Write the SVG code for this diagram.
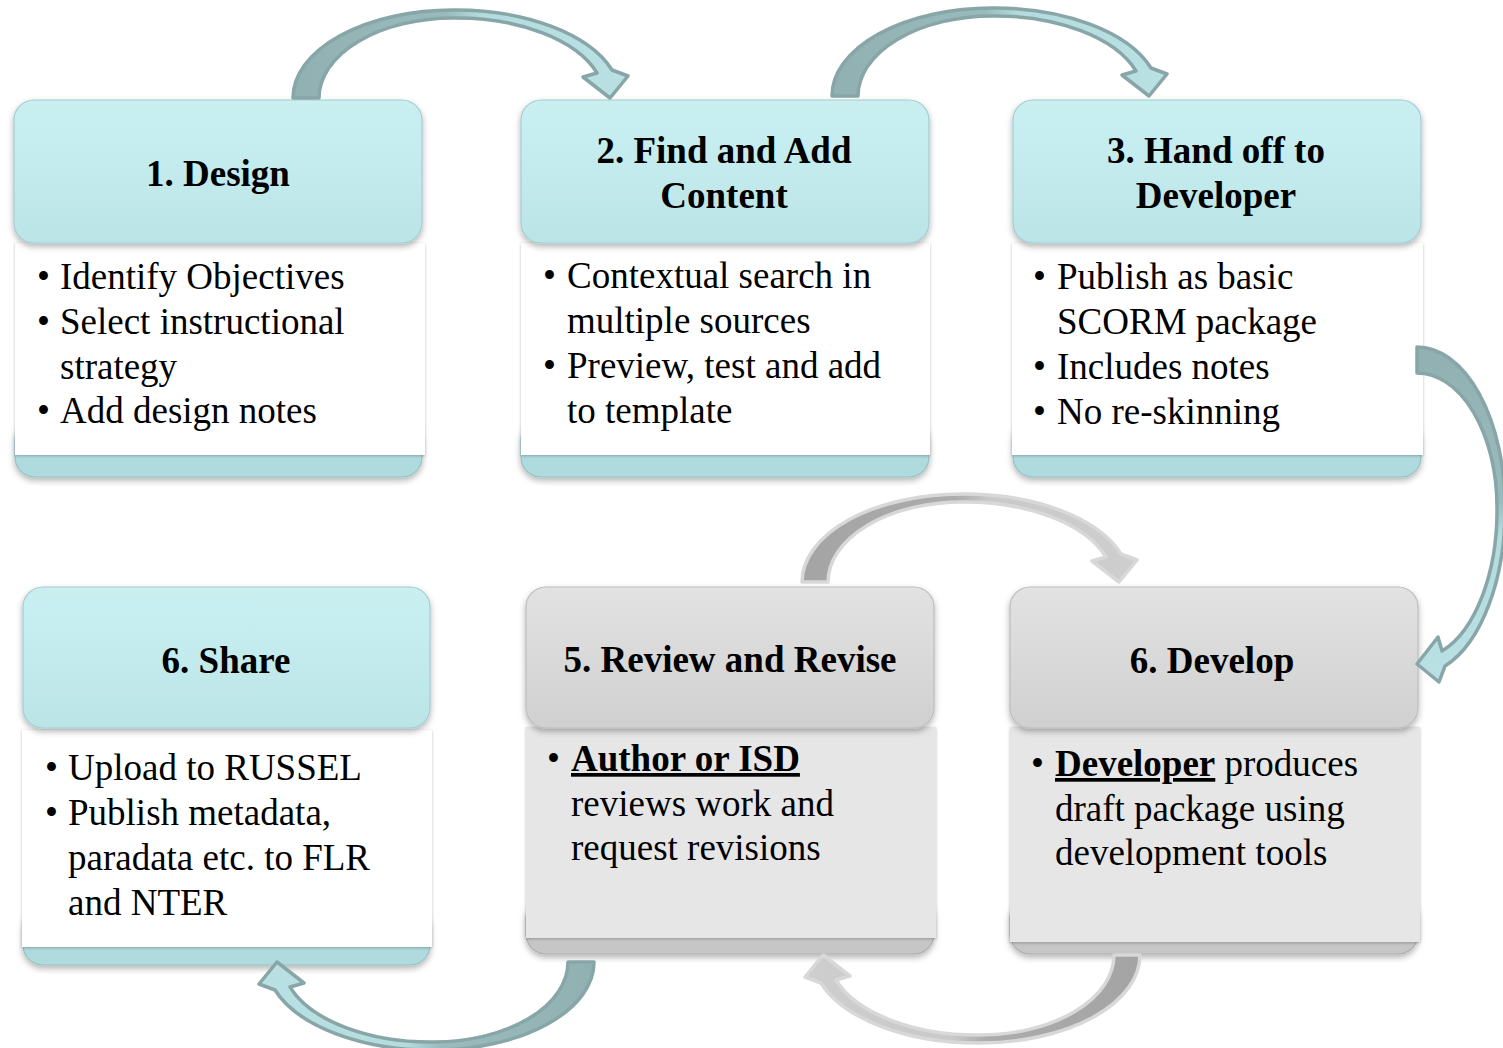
<svg xmlns="http://www.w3.org/2000/svg" width="1503" height="1048" viewBox="0 0 1503 1048">
<style>
.txt{font-family:"Liberation Serif","Times New Roman",serif;font-size:37px;fill:#000}
.hd{font-weight:bold;text-anchor:middle}
.b{font-weight:bold;text-decoration:underline}
.hT{fill:url(#gTeal);stroke:#a3cdd0;stroke-width:1.2}
.hG{fill:url(#gGray);stroke:#bdbdbd;stroke-width:1.2}
.bandT{fill:#b0dbde;stroke:#94c1c4;stroke-width:1.2}
.bandG{fill:#c6c6c6;stroke:#adadad;stroke-width:1.2}
.bodyW{fill:#ffffff}
.bodyG{fill:#e6e6e6}
.arT{fill:url(#gArrowT);stroke:#88a6a8;stroke-width:3.5;stroke-linejoin:round}
.arG{fill:url(#gArrowG);stroke:#d8d8d8;stroke-width:3.5;stroke-linejoin:round}
</style>
<defs>
<linearGradient id="gTeal" x1="0" y1="0" x2="0" y2="1">
<stop offset="0" stop-color="#c9eff1"/><stop offset="0.5" stop-color="#c3ebed"/><stop offset="1" stop-color="#bbe4e7"/>
</linearGradient>
<linearGradient id="gGray" x1="0" y1="0" x2="0" y2="1">
<stop offset="0" stop-color="#e2e2e2"/><stop offset="0.5" stop-color="#d9d9d9"/><stop offset="1" stop-color="#d0d0d0"/>
</linearGradient>
<linearGradient id="gArrowT" x1="0" y1="0" x2="1" y2="0">
<stop offset="0" stop-color="#91b0b2"/><stop offset="0.46" stop-color="#9abbbd"/><stop offset="0.56" stop-color="#b4dcdf"/><stop offset="1" stop-color="#b9e1e4"/>
</linearGradient>
<linearGradient id="gArrowG" x1="0" y1="0" x2="1" y2="0">
<stop offset="0" stop-color="#a4a4a4"/><stop offset="0.46" stop-color="#acacac"/><stop offset="0.56" stop-color="#c9c9c9"/><stop offset="1" stop-color="#cecece"/>
</linearGradient>
<filter id="sh" x="-5%" y="-10%" width="110%" height="125%">
<feDropShadow dx="0" dy="3" stdDeviation="3" flood-color="#000" flood-opacity="0.3"/>
</filter>
<filter id="shs" x="-5%" y="-5%" width="110%" height="115%">
<feDropShadow dx="0" dy="1" stdDeviation="1.5" flood-color="#000" flood-opacity="0.25"/>
</filter>
<path id="arc" d="M293,98 A160,88 0 0 1 453,10 A165,88 0 0 1 612,70 L628,76 L610,98 L583,77 L597,73 A148,80 0 0 0 453,18 A134,80 0 0 0 319,98 Z"/>
</defs>
<rect width="1503" height="1048" fill="#ffffff"/>

<g id="node1">
<rect class="bandT" x="15" y="420" width="407" height="57" rx="20" filter="url(#sh)"/>
<rect class="bodyW" x="15" y="243" width="410" height="212" filter="url(#shs)"/>
<rect class="hT" x="14" y="100" width="408" height="143" rx="20" filter="url(#sh)"/>
<text class="txt hd" x="218" y="186">1. Design</text>
<text class="txt" x="37" y="289">•</text><text class="txt" x="60" y="289">Identify Objectives</text>
<text class="txt" x="37" y="334">•</text><text class="txt" x="60" y="334">Select instructional</text>
<text class="txt" x="60" y="379">strategy</text>
<text class="txt" x="37" y="423">•</text><text class="txt" x="60" y="423">Add design notes</text>
</g>

<g id="node2">
<rect class="bandT" x="521" y="420" width="408" height="57" rx="20" filter="url(#sh)"/>
<rect class="bodyW" x="521" y="243" width="409" height="212" filter="url(#shs)"/>
<rect class="hT" x="521" y="100" width="408" height="143" rx="20" filter="url(#sh)"/>
<text class="txt hd" x="724" y="163">2. Find and Add</text>
<text class="txt hd" x="724" y="208">Content</text>
<text class="txt" x="543" y="288">•</text><text class="txt" x="567" y="288">Contextual search in</text>
<text class="txt" x="567" y="333">multiple sources</text>
<text class="txt" x="543" y="378">•</text><text class="txt" x="567" y="378">Preview, test and add</text>
<text class="txt" x="567" y="423">to template</text>
</g>

<g id="node3">
<rect class="bandT" x="1013" y="420" width="408" height="57" rx="20" filter="url(#sh)"/>
<rect class="bodyW" x="1012" y="243" width="411" height="212" filter="url(#shs)"/>
<rect class="hT" x="1013" y="100" width="408" height="143" rx="20" filter="url(#sh)"/>
<text class="txt hd" x="1216" y="163">3. Hand off to</text>
<text class="txt hd" x="1216" y="208">Developer</text>
<text class="txt" x="1033" y="289">•</text><text class="txt" x="1057" y="289">Publish as basic</text>
<text class="txt" x="1057" y="334">SCORM package</text>
<text class="txt" x="1033" y="379">•</text><text class="txt" x="1057" y="379">Includes notes</text>
<text class="txt" x="1033" y="424">•</text><text class="txt" x="1057" y="424">No re-skinning</text>
</g>

<g id="node6share">
<rect class="bandT" x="23" y="908" width="407" height="57" rx="20" filter="url(#sh)"/>
<rect class="bodyW" x="22" y="730" width="410" height="217" filter="url(#shs)"/>
<rect class="hT" x="23" y="587" width="407" height="141" rx="20" filter="url(#sh)"/>
<text class="txt hd" x="226" y="673">6. Share</text>
<text class="txt" x="45" y="780">•</text><text class="txt" x="68" y="780">Upload to RUSSEL</text>
<text class="txt" x="45" y="825">•</text><text class="txt" x="68" y="825">Publish metadata,</text>
<text class="txt" x="68" y="870">paradata etc. to FLR</text>
<text class="txt" x="68" y="915">and NTER</text>
</g>

<g id="node5">
<rect class="bandG" x="526" y="898" width="408" height="56" rx="20" filter="url(#sh)"/>
<rect class="bodyG" x="526" y="727" width="410" height="211" filter="url(#shs)"/>
<rect class="hG" x="526" y="587" width="408" height="141" rx="20" filter="url(#sh)"/>
<text class="txt hd" x="730" y="672">5. Review and Revise</text>
<text class="txt" x="547" y="771">•</text><text class="txt b" x="571" y="771">Author or ISD</text>
<text class="txt" x="571" y="816">reviews work and</text>
<text class="txt" x="571" y="860">request revisions</text>
</g>

<g id="node6develop">
<rect class="bandG" x="1010" y="898" width="408" height="56" rx="20" filter="url(#sh)"/>
<rect class="bodyG" x="1010" y="727" width="410" height="215" filter="url(#shs)"/>
<rect class="hG" x="1010" y="587" width="408" height="141" rx="20" filter="url(#sh)"/>
<text class="txt hd" x="1212" y="673">6. Develop</text>
<text class="txt" x="1031" y="776">•</text><text class="txt" x="1055" y="776"><tspan class="b">Developer</tspan> produces</text>
<text class="txt" x="1055" y="821">draft package using</text>
<text class="txt" x="1055" y="865">development tools</text>
</g>

<g id="connectors">
<use href="#arc" class="arT"/>
<use href="#arc" class="arT" transform="translate(539,-2)"/>
<use href="#arc" class="arT" transform="matrix(0,1,-1,0,1515,54)"/>
<use href="#arc" class="arG" transform="translate(509,484)"/>
<use href="#arc" class="arT" transform="matrix(-1,0,0,-1,887,1060)"/>
<use href="#arc" class="arG" transform="matrix(-1,0,0,-1,1433,1053)"/>
</g>
</svg>
